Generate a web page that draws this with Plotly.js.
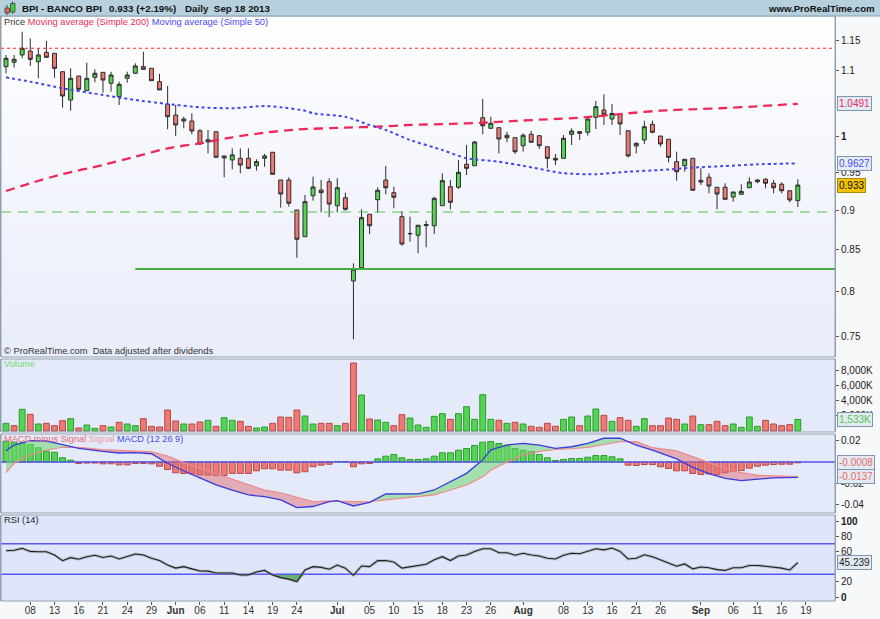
<!DOCTYPE html>
<html><head><meta charset="utf-8">
<script src="https://cdn.plot.ly/plotly-3.0.1.min.js"></script>
<style>html,body{margin:0;padding:0;background:#f7f8fa;}#chart{width:880px;height:619px;}</style>
</head><body><div id="chart"></div>
<script>
// ---------------- DATA ----------------
const dates = [
'2013-05-03','2013-05-06','2013-05-07','2013-05-08','2013-05-09','2013-05-10','2013-05-13','2013-05-14','2013-05-15','2013-05-16',
'2013-05-17','2013-05-20','2013-05-21','2013-05-22','2013-05-23','2013-05-24','2013-05-27','2013-05-28','2013-05-29','2013-05-30',
'2013-05-31','2013-06-03','2013-06-04','2013-06-05','2013-06-06','2013-06-07','2013-06-10','2013-06-11','2013-06-12','2013-06-13',
'2013-06-14','2013-06-17','2013-06-18','2013-06-19','2013-06-20','2013-06-21','2013-06-24','2013-06-25','2013-06-26','2013-06-27',
'2013-06-28','2013-07-01','2013-07-02','2013-07-03','2013-07-04','2013-07-05','2013-07-08','2013-07-09','2013-07-10','2013-07-11',
'2013-07-12','2013-07-15','2013-07-16','2013-07-17','2013-07-18','2013-07-19','2013-07-22','2013-07-23','2013-07-24','2013-07-25',
'2013-07-26','2013-07-29','2013-07-30','2013-07-31','2013-08-01','2013-08-02','2013-08-05','2013-08-06','2013-08-07','2013-08-08',
'2013-08-09','2013-08-12','2013-08-13','2013-08-14','2013-08-15','2013-08-16','2013-08-19','2013-08-20','2013-08-21','2013-08-22',
'2013-08-23','2013-08-26','2013-08-27','2013-08-28','2013-08-29','2013-08-30','2013-09-02','2013-09-03','2013-09-04','2013-09-05',
'2013-09-06','2013-09-09','2013-09-10','2013-09-11','2013-09-12','2013-09-13','2013-09-16','2013-09-17','2013-09-18'];

const priceOpen = [
1.1068,1.1138,1.1256,1.1321,1.1148,1.1300,1.1284,1.0988,1.0548,1.0920,
1.0691,1.0899,1.0978,1.0806,1.0599,1.0884,1.0963,1.1068,1.1042,1.0831,
1.0483,1.0322,1.0263,1.0234,1.0091,0.9930,1.0077,0.9702,0.9674,0.9697,
0.9697,0.9594,0.9697,0.9782,0.9398,0.9398,0.9000,0.8660,0.9188,0.9264,
0.9375,0.9056,0.9161,0.8124,0.8281,0.8945,0.9135,0.9398,0.9228,0.8914,
0.8695,0.8678,0.8800,0.8798,0.9056,0.9308,0.9300,0.9614,0.9594,1.0282,
1.0126,1.0135,1.0025,0.9990,0.9875,1.0039,1.0019,0.9861,0.9697,0.9697,
1.0039,1.0053,1.0068,1.0288,1.0397,1.0263,1.0337,1.0091,0.9871,0.9957,
1.0185,1.0014,0.9967,0.9650,0.9594,0.9697,0.9394,0.9435,0.9300,0.9300,
0.9171,0.9206,0.9294,0.9398,0.9408,0.9354,0.9341,0.9254,0.9122];
const priceHigh = [
1.1256,1.1256,1.1640,1.1530,1.1366,1.1486,1.1284,1.0988,1.1042,1.0920,
1.1133,1.1026,1.0978,1.0988,1.0831,1.0988,1.1122,1.1310,1.1042,1.0952,
1.0764,1.0473,1.0297,1.0348,1.0112,1.0102,1.0077,0.9730,0.9838,0.9838,
0.9838,0.9683,0.9758,0.9782,0.9398,0.9435,0.9000,0.9197,0.9443,0.9398,
0.9421,0.9421,0.9228,0.8334,0.9009,0.8945,0.9300,0.9590,0.9308,0.8987,
0.8914,0.8804,0.8862,0.9175,0.9490,0.9398,0.9674,0.9885,0.9942,1.0564,
1.0297,1.0135,1.0077,0.9990,1.0053,1.0087,1.0019,0.9861,0.9758,1.0029,
1.0126,1.0077,1.0297,1.0533,1.0636,1.0488,1.0337,1.0091,0.9924,1.0238,
1.0238,1.0014,0.9967,0.9790,0.9683,0.9697,0.9558,0.9490,0.9300,0.9354,
0.9237,0.9341,0.9435,0.9412,0.9421,0.9398,0.9367,0.9254,0.9408];
const priceLow = [
1.0963,1.1052,1.1203,1.1079,1.0884,1.1213,1.0894,1.0432,1.0387,1.0676,
1.0691,1.0820,1.0660,1.0676,1.0473,1.0815,1.0952,1.1026,1.0846,1.0702,
1.0112,1.0014,1.0126,1.0039,0.9885,0.9767,0.9711,0.9435,0.9545,0.9490,
0.9545,0.9525,0.9580,0.9476,0.9031,0.9043,0.8402,0.8660,0.9122,0.8970,
0.8906,0.8970,0.8991,0.7468,0.8281,0.8694,0.8965,0.9206,0.9022,0.8548,
0.8598,0.8455,0.8529,0.8694,0.9056,0.9009,0.9277,0.9466,0.9594,1.0039,
1.0126,0.9767,0.9924,0.9758,0.9790,0.9924,0.9828,0.9558,0.9604,0.9697,
0.9885,0.9957,1.0019,1.0116,1.0175,1.0175,1.0029,0.9711,0.9767,0.9900,
1.0053,0.9861,0.9641,0.9389,0.9511,0.9260,0.9331,0.9220,0.9009,0.9140,
0.9109,0.9206,0.9294,0.9354,0.9287,0.9220,0.9220,0.9101,0.9039];
const priceClose = [
1.1203,1.1186,1.1366,1.1186,1.1256,1.1219,1.1042,1.0610,1.0884,1.0712,
1.0884,1.0963,1.0857,1.0936,1.0790,1.0936,1.1079,1.1026,1.0846,1.0702,
1.0297,1.0175,1.0234,1.0087,0.9900,0.9960,0.9711,0.9730,0.9745,0.9604,
0.9558,0.9650,0.9730,0.9476,0.9210,0.9088,0.8628,0.9109,0.9304,0.9228,
0.9078,0.9294,0.9009,0.8262,0.8901,0.8798,0.9260,0.9294,0.9167,0.8569,
0.8700,0.8804,0.8812,0.9153,0.9389,0.9101,0.9503,0.9558,0.9928,1.0164,
1.0200,0.9971,0.9990,0.9790,1.0025,0.9924,0.9875,0.9697,0.9674,0.9981,
1.0087,1.0077,1.0263,1.0447,1.0333,1.0345,1.0190,0.9730,0.9909,1.0150,
1.0068,0.9900,0.9711,0.9511,0.9683,0.9260,0.9371,0.9317,0.9210,0.9140,
0.9237,0.9245,0.9371,0.9375,0.9354,0.9294,0.9254,0.9131,0.9330];

const volumeK = [
1015,706,2870,2208,927,1015,706,1369,1634,397,
795,353,706,530,1148,927,706,1634,618,530,
2781,1325,927,927,1192,1413,618,1766,1413,1280,
618,397,530,1015,1854,1810,2781,1987,927,1015,
1015,706,1015,9007,4768,1589,1457,1148,706,2163,
1722,795,486,1943,2296,1545,2296,3223,1545,4812,
1545,1413,1015,1148,927,618,486,1015,618,1545,
1854,706,1987,2914,2075,1280,1766,1413,618,1634,
706,706,1722,1545,927,1987,839,839,1280,706,
927,486,1854,618,1413,927,706,839,1533];

const macdHist = [
0.0196,0.0187,0.0180,0.0165,0.0134,0.0102,0.0092,0.0040,0.0017,-0.0014,
-0.0010,-0.0010,-0.0017,-0.0017,-0.0027,-0.0027,-0.0014,-0.0014,-0.0017,-0.0040,
-0.0071,-0.0102,-0.0108,-0.0110,-0.0121,-0.0124,-0.0127,-0.0127,-0.0108,-0.0108,
-0.0108,-0.0083,-0.0064,-0.0064,-0.0077,-0.0077,-0.0102,-0.0092,-0.0045,-0.0030,
-0.0021,0.0005,0.0005,-0.0045,-0.0017,-0.0014,0.0030,0.0055,0.0071,0.0040,
0.0024,0.0024,0.0030,0.0055,0.0087,0.0087,0.0111,0.0127,0.0156,0.0187,
0.0193,0.0175,0.0159,0.0127,0.0111,0.0099,0.0071,0.0040,0.0014,0.0024,
0.0033,0.0033,0.0045,0.0061,0.0061,0.0049,0.0030,-0.0030,-0.0033,-0.0024,
-0.0024,-0.0045,-0.0061,-0.0083,-0.0083,-0.0108,-0.0118,-0.0112,-0.0118,-0.0102,
-0.0087,-0.0080,-0.0058,-0.0040,-0.0030,-0.0024,-0.0021,-0.0021,-0.0008];

const macdDates = ['2013-05-03','2013-05-06','2013-05-08','2013-05-10','2013-05-14','2013-05-16','2013-05-21','2013-05-23','2013-05-27','2013-05-29',
'2013-05-31','2013-06-04','2013-06-06','2013-06-10','2013-06-12','2013-06-14','2013-06-18','2013-06-20','2013-06-24','2013-06-26',
'2013-06-28','2013-07-01','2013-07-03','2013-07-05','2013-07-09','2013-07-11','2013-07-15','2013-07-17','2013-07-19','2013-07-23',
'2013-07-25','2013-07-26','2013-07-30','2013-08-01','2013-08-05','2013-08-07','2013-08-09','2013-08-13','2013-08-15','2013-08-19',
'2013-08-21','2013-08-23','2013-08-28','2013-08-30','2013-09-03','2013-09-05','2013-09-09','2013-09-11','2013-09-13','2013-09-18'];
const macdLine = [0.0107,0.0160,0.0201,0.0198,0.0165,0.0128,0.0100,0.0085,0.0088,0.0078,
-0.0012,-0.0085,-0.0150,-0.0215,-0.0265,-0.0311,-0.0327,-0.0358,-0.0431,-0.0420,
-0.0374,-0.0365,-0.0415,-0.0380,-0.0302,-0.0302,-0.0300,-0.0264,-0.0185,-0.0107,
0.0020,0.0115,0.0160,0.0176,0.0160,0.0129,0.0144,0.0176,0.0224,0.0224,
0.0160,0.0113,0.0030,-0.0050,-0.0110,-0.0154,-0.0176,-0.0163,-0.0150,-0.0145];
const signalLine = [-0.0101,-0.0012,0.0066,0.0113,0.0139,0.0138,0.0117,0.0108,0.0103,0.0095,
0.0057,-0.0006,-0.0060,-0.0110,-0.0165,-0.0215,-0.0265,-0.0290,-0.0335,-0.0374,
-0.0370,-0.0372,-0.0370,-0.0375,-0.0357,-0.0343,-0.0327,-0.0310,-0.0264,-0.0217,
-0.0139,-0.0078,0.0001,0.0066,0.0100,0.0118,0.0125,0.0138,0.0165,0.0192,
0.0192,0.0135,0.0105,0.0050,-0.0010,-0.0060,-0.0100,-0.0123,-0.0130,-0.0137];

const ma200Dates = ['2013-05-03','2013-05-08','2013-05-14','2013-05-21','2013-05-27','2013-05-31','2013-06-06','2013-06-12','2013-06-18','2013-06-24',
'2013-07-02','2013-07-08','2013-07-12','2013-07-19','2013-07-25','2013-07-31','2013-08-06','2013-08-12','2013-08-20','2013-08-26',
'2013-08-30','2013-09-05','2013-09-11','2013-09-18'];
const ma200 = [0.9250,0.9354,0.9480,0.9604,0.9720,0.9838,0.9910,0.9996,1.0062,1.0109,
1.0135,1.0150,1.0175,1.0190,1.0208,1.0234,1.0259,1.0282,1.0348,1.0387,
1.0408,1.0427,1.0453,1.0491];

const ma50Dates = ['2013-05-03','2013-05-08','2013-05-14','2013-05-21','2013-05-27','2013-05-31','2013-06-06','2013-06-12','2013-06-18','2013-06-20',
'2013-06-25','2013-06-26','2013-07-02','2013-07-05','2013-07-09','2013-07-12','2013-07-18','2013-07-23','2013-07-29','2013-08-02',
'2013-08-08','2013-08-14','2013-08-20','2013-08-26','2013-08-30','2013-09-05','2013-09-11','2013-09-18'];
const ma50 = [1.0899,1.0831,1.0728,1.0625,1.0548,1.0488,1.0438,1.0423,1.0457,1.0438,
1.0387,1.0348,1.0297,1.0175,1.0102,0.9957,0.9814,0.9697,0.9650,0.9572,
0.9490,0.9476,0.9511,0.9535,0.9567,0.9590,0.9613,0.9627];

const rsi = [
60.9,61.5,64.0,60.0,59.6,59.6,55.3,47.8,51.8,49.6,
53.0,55.0,52.0,54.0,50.0,53.0,56.6,55.3,51.0,48.0,
42.0,38.0,40.0,37.0,34.2,34.0,31.5,31.5,31.5,29.0,
29.0,33.0,35.0,29.0,25.5,23.5,20.2,35.5,39.9,39.0,
36.5,42.0,38.0,28.5,40.8,40.0,47.8,48.0,46.0,38.0,
40.0,42.0,43.0,49.0,53.0,48.0,54.0,55.3,60.0,63.5,
63.5,58.3,58.3,55.0,57.5,55.3,54.0,51.0,50.0,55.0,
57.5,57.0,60.0,63.5,62.0,64.5,60.0,50.0,51.0,55.5,
53.0,49.0,44.0,40.5,43.5,37.0,39.5,38.5,36.0,35.0,
38.5,38.5,41.5,41.5,40.5,39.0,38.0,35.5,45.239];

const resistanceLevel = 1.1366;
const supportDashed = 0.8974;
const supportSolid = 0.8266;
const supportSolidStart = '2013-05-27';
const rsiUpper = 70, rsiLower = 30;

const tickDates = ['2013-05-08','2013-05-13','2013-05-16','2013-05-21','2013-05-24','2013-05-29','2013-06-03','2013-06-06','2013-06-11','2013-06-14',
'2013-06-19','2013-06-24','2013-07-01','2013-07-05','2013-07-10','2013-07-15','2013-07-18','2013-07-23','2013-07-26','2013-08-01',
'2013-08-08','2013-08-13','2013-08-16','2013-08-21','2013-08-26','2013-09-02','2013-09-06','2013-09-11','2013-09-16','2013-09-19'];
const tickLabels = ['08','13','16','21','24','29','<b>Jun</b>','06','11','14','19','24','<b>Jul</b>','05','10','15','18','23','26','<b>Aug</b>',
'08','13','16','21','26','<b>Sep</b>','06','11','16','19'];
const priceTicks = [1.15,1.1,1,0.95,0.9,0.85,0.8,0.75];
const priceTickText = ['1.15','1.1','<b>1</b>','0.95','0.9','0.85','0.8','0.75'];
const volTicks = [2000,4000,6000,8000];
const volTickText = ['2,000K','4,000K','6,000K','8,000K'];
const macdTicks = [0.02,-0.02,-0.04];
const macdTickText = ['0.02','-0.02','-0.04'];
const rsiTicks = [100,80,60,20,0];
const rsiTickText = ['<b>100</b>','80','60','20','<b>0</b>'];

// ---------------- LAYOUT HELPERS ----------------
const FONT = 'Liberation Sans, Arial, Helvetica, sans-serif';
const W = 880, H = 619, M = {l:1, r:45, t:16, b:18};
const PW = W - M.l - M.r, PH = H - M.t - M.b;
const px = x => (x - M.l) / PW;
const py = y => (H - M.b - y) / PH;

const pos = d => { const k = dates.indexOf(d); return k >= 0 ? k : dates.filter(v => v < d).length; };
const xs = dates.map((d, i) => i);
const xRange = [-0.62, 102.6];

const GREEN = '#54d454', GREEN_L = '#2e9a2e', RED = '#ef7a74', RED_L = '#b84848';

const domPrice = [py(357), 1], domVol = [py(432), py(359)], domMacd = [py(513), py(434)], domRsi = [0, py(515)];

const traces = [];
// price panel: levels
traces.push({type:'scatter', mode:'lines', x:xRange, y:[resistanceLevel, resistanceLevel], xaxis:'x', yaxis:'y',
  line:{color:'#ff2a2a', width:1, dash:'3px,3px'}, hoverinfo:'skip'});
traces.push({type:'scatter', mode:'lines', x:xRange, y:[supportDashed, supportDashed], xaxis:'x', yaxis:'y',
  line:{color:'#55c255', width:1.2, dash:'10px,7px'}, hoverinfo:'skip'});
traces.push({type:'scatter', mode:'lines', x:[pos(supportSolidStart), xRange[1]], y:[supportSolid, supportSolid], xaxis:'x', yaxis:'y',
  line:{color:'#3fae3f', width:2}, hoverinfo:'skip'});
// moving averages
traces.push({type:'scatter', mode:'lines', x:ma200Dates.map(pos), y:ma200, xaxis:'x', yaxis:'y',
  line:{color:'#f0285a', width:2.3, dash:'9px,6px', shape:'spline', smoothing:0.6}, hoverinfo:'skip'});
traces.push({type:'scatter', mode:'lines', x:ma50Dates.map(pos), y:ma50, xaxis:'x', yaxis:'y',
  line:{color:'#4646f0', width:2, dash:'3px,3px', shape:'spline', smoothing:0.6}, hoverinfo:'skip'});
// candles
traces.push({type:'candlestick', x:xs, open:priceOpen, high:priceHigh, low:priceLow, close:priceClose, xaxis:'x', yaxis:'y',
  increasing:{fillcolor:GREEN, line:{color:'#2c2c2c', width:1}},
  decreasing:{fillcolor:RED, line:{color:'#2c2c2c', width:1}},
  whiskerwidth:0, hoverinfo:'skip'});

// volume
const upDay = priceClose.map((c, i) => i === 0 || c >= priceClose[i-1]);
traces.push({type:'bar', x:xs, y:volumeK, xaxis:'x', yaxis:'y2', width:0.72,
  marker:{color:upDay.map(u => u ? GREEN : RED), line:{color:upDay.map(u => u ? GREEN_L : RED_L), width:1}}, hoverinfo:'skip'});

// MACD
traces.push({type:'bar', x:xs, y:macdHist, xaxis:'x', yaxis:'y3', width:0.74,
  marker:{color:macdHist.map(v => v >= 0 ? GREEN : RED), line:{color:macdHist.map(v => v >= 0 ? GREEN_L : RED_L), width:1}}, hoverinfo:'skip'});
traces.push({type:'scatter', mode:'lines', x:xRange, y:[0, 0], xaxis:'x', yaxis:'y3', line:{color:'#5555ee', width:1.4}, hoverinfo:'skip'});
const mx = macdDates.map(pos);
function poly(xp, yp, up) {
  traces.push({type:'scatter', mode:'lines', x:xp.concat([xp[0]]), y:yp.concat([yp[0]]), xaxis:'x', yaxis:'y3', fill:'toself',
    fillcolor: up ? 'rgba(110,215,110,0.55)' : 'rgba(222,110,115,0.5)', line:{width:0}, hoverinfo:'skip'});
}
for (let k = 0; k < mx.length - 1; k++) {
  const x0 = mx[k], x1 = mx[k+1], a0 = macdLine[k], a1 = macdLine[k+1], b0 = signalLine[k], b1 = signalLine[k+1];
  const d0 = a0 - b0, d1 = a1 - b1;
  if (d0 * d1 < 0) {
    const t = d0 / (d0 - d1), xc = x0 + t * (x1 - x0), yc = a0 + t * (a1 - a0);
    poly([x0, xc, x0], [a0, yc, b0], d0 > 0);
    poly([xc, x1, x1], [yc, a1, b1], d1 > 0);
  } else {
    poly([x0, x1, x1, x0], [a0, a1, b1, b0], d0 + d1 >= 0);
  }
}
traces.push({type:'scatter', mode:'lines', x:mx, y:signalLine, xaxis:'x', yaxis:'y3', line:{color:'#f08a8a', width:1.2}, hoverinfo:'skip'});
traces.push({type:'scatter', mode:'lines', x:mx, y:macdLine, xaxis:'x', yaxis:'y3', line:{color:'#3a3ae0', width:1.3}, hoverinfo:'skip'});

// RSI
traces.push({type:'scatter', mode:'lines', x:xRange, y:[rsiUpper, rsiUpper], xaxis:'x', yaxis:'y4', line:{color:'#5757f2', width:1.6}, hoverinfo:'skip'});
traces.push({type:'scatter', mode:'lines', x:xs, y:xs.map(() => rsiLower), xaxis:'x', yaxis:'y4', line:{color:'rgba(0,0,0,0)', width:0}, hoverinfo:'skip'});
traces.push({type:'scatter', mode:'lines', x:xs, y:rsi.map(v => Math.min(v, rsiLower)), xaxis:'x', yaxis:'y4', fill:'tonexty',
  fillcolor:'rgba(60,160,60,0.75)', line:{width:0, color:'rgba(0,0,0,0)'}, hoverinfo:'skip'});
traces.push({type:'scatter', mode:'lines', x:xRange, y:[rsiLower, rsiLower], xaxis:'x', yaxis:'y4', line:{color:'#5757f2', width:1.6}, hoverinfo:'skip'});
traces.push({type:'scatter', mode:'lines', x:xs, y:rsi, xaxis:'x', yaxis:'y4', line:{color:'rgba(150,150,150,0.5)', width:3}, hoverinfo:'skip'});
traces.push({type:'scatter', mode:'lines', x:xs, y:rsi, xaxis:'x', yaxis:'y4', line:{color:'#1e1e1e', width:1.1}, hoverinfo:'skip'});

// ---------------- SHAPES ----------------
const shapes = [];
const NB = 40;
for (let k = 0; k < NB; k++) {
  const f0 = k / NB, f1 = (k + 1) / NB;
  const c = 1 - (k + 0.5) / NB;
  const r = Math.round(255 - 22 * c), g = Math.round(255 - 19 * c), b = Math.round(255 - 5 * c);
  shapes.push({type:'rect', xref:'paper', yref:'paper', x0:0, x1:1,
    y0:domPrice[0] + (domPrice[1] - domPrice[0]) * f0, y1:domPrice[0] + (domPrice[1] - domPrice[0]) * f1 + 0.001,
    fillcolor:`rgb(${r},${g},${b})`, line:{width:0}, layer:'below'});
}
shapes.push({type:'rect', xref:'paper', yref:'paper', x0:0, x1:1, y0:domRsi[0], y1:domRsi[1], fillcolor:'#dfe6fb', line:{width:0}, layer:'below'});
[domPrice, domVol, domMacd, domRsi].forEach(d => shapes.push({type:'rect', xref:'paper', yref:'paper', x0:0, x1:1, y0:d[0], y1:d[1],
  fillcolor:'rgba(0,0,0,0)', line:{color:'#94a2b2', width:1}}));
shapes.push({type:'rect', xref:'paper', yref:'paper', x0:px(0), x1:px(880), y0:py(16), y1:py(0), fillcolor:'#b6d0dd', line:{width:0}});
shapes.push({type:'line', xref:'paper', yref:'paper', x0:px(0), x1:px(880), y0:py(16), y1:py(16), line:{color:'#8aa3b3', width:1}});
shapes.push({type:'line', xref:'paper', yref:'paper', x0:px(7), x1:px(7), y0:py(15), y1:py(5), line:{color:'#444', width:1}});
shapes.push({type:'rect', xref:'paper', yref:'paper', x0:px(5), x1:px(9.5), y0:py(13), y1:py(8), fillcolor:'#e8605a', line:{color:'#444', width:0.8}});
shapes.push({type:'line', xref:'paper', yref:'paper', x0:px(12.5), x1:px(12.5), y0:py(14), y1:py(1.5), line:{color:'#444', width:1}});
shapes.push({type:'rect', xref:'paper', yref:'paper', x0:px(10.5), x1:px(15), y0:py(12), y1:py(3.5), fillcolor:'#3ccc3c', line:{color:'#444', width:0.8}});

// ---------------- ANNOTATIONS ----------------
const ann = [];
const txt = (x, y, text, size, color, anchor) => ann.push({xref:'paper', yref:'paper', x:px(x), y:py(y), xanchor:anchor || 'left', yanchor:'middle',
  text, showarrow:false, font:{family:FONT, size, color}});
txt(20, 8.5, '<b>BPI - BANCO BPI</b>', 9.8, '#111');
txt(107, 8.5, '<b>' + priceClose[priceClose.length-1].toFixed(3) + ' (+2.19%)</b>', 9.8, '#111');
txt(183, 8.5, '<b>Daily  Sep 18 2013</b>', 9.8, '#111');
txt(877, 8.5, '<b>www.ProRealTime.com</b>', 9.6, '#111', 'right');
txt(2, 22, '<span style="color:#333">Price</span> <span style="color:#f0285a">Moving average (Simple 200)</span> <span style="color:#4a4af2">Moving average (Simple 50)</span>', 9.3, '#333');
txt(2, 351, '© ProRealTime.com  Data adjusted after dividends', 9.3, '#333');
txt(2, 364, 'Volume', 9.3, '#74d874');
txt(2, 439, '<span style="color:#e46a6a">MACD minus Signal</span> <span style="color:#f09a9a">Signal</span> <span style="color:#4a4ae6">MACD (12 26 9)</span>', 9.2, '#333');
txt(2, 520, 'RSI (14)', 9.3, '#222');

function valBox(yref, y, text, color, bg, border) {
  ann.push({xref:'paper', x:px(837), xanchor:'left', yref, y, yanchor:'middle', text, showarrow:false,
    font:{family:FONT, size:10, color}, bgcolor:bg, bordercolor:border, borderwidth:1, borderpad:1});
}
const lastMA200 = ma200[ma200.length-1], lastMA50 = ma50[ma50.length-1], lastClose = priceClose[priceClose.length-1];
valBox('y', Math.log10(lastMA200), lastMA200.toFixed(4), '#f0285a', '#e3eaf4', '#8195aa');
valBox('y', Math.log10(lastMA50), lastMA50.toFixed(4), '#4a4af2', '#e3eaf4', '#8195aa');
valBox('y', Math.log10(lastClose), lastClose.toFixed(3), '#111', '#f2c200', '#a8890a');
valBox('y2', volumeK[volumeK.length-1], volumeK[volumeK.length-1].toLocaleString('en-US') + 'K', '#4cc84c', '#e3eaf4', '#8195aa');
valBox('y3', macdHist[macdHist.length-1], macdHist[macdHist.length-1].toFixed(4), '#e46a6a', '#e3eaf4', '#8195aa');
valBox('y3', signalLine[signalLine.length-1], signalLine[signalLine.length-1].toFixed(4), '#e46a6a', '#e3eaf4', '#8195aa');
valBox('y4', rsi[rsi.length-1], rsi[rsi.length-1].toFixed(3), '#222', '#e3eaf4', '#8195aa');

// ---------------- AXES ----------------
const yCommon = {side:'right', anchor:'x', showgrid:false, zeroline:false, showline:true, linecolor:'#8d9bab', mirror:true,
  ticks:'outside', ticklen:3, tickcolor:'#555', tickfont:{family:FONT, size:10, color:'#222'}, fixedrange:true, tickmode:'array'};

const layout = {
  width:W, height:H, margin:M, paper_bgcolor:'#f7f8fa', plot_bgcolor:'#e5eafb', showlegend:false, barmode:'overlay',
  font:{family:FONT, size:10, color:'#222'},
  xaxis:{type:'linear', range:xRange, anchor:'y4', showgrid:false, zeroline:false, showline:false,
    tickmode:'array', tickvals:tickDates.map(pos), ticktext:tickLabels, ticks:'outside', ticklen:3, tickcolor:'#555',
    ticklabelstandoff:-3,
    tickfont:{family:FONT, size:10, color:'#333'}, rangeslider:{visible:false}, fixedrange:true},
  yaxis:Object.assign({}, yCommon, {domain:domPrice, type:'log', range:[Math.log10(0.72797), Math.log10(1.19078)],
    tickvals:priceTicks, ticktext:priceTickText}),
  yaxis2:Object.assign({}, yCommon, {domain:domVol, range:[-132, 9536], tickvals:volTicks, ticktext:volTickText}),
  yaxis3:Object.assign({}, yCommon, {domain:domMacd, range:[-0.048113, 0.026415], tickvals:macdTicks, ticktext:macdTickText}),
  yaxis4:Object.assign({}, yCommon, {domain:domRsi, range:[-5.263, 107.89], tickvals:rsiTicks, ticktext:rsiTickText}),
  shapes, annotations:ann
};

Plotly.newPlot('chart', traces, layout, {displayModeBar:false, staticPlot:true});
</script>
</body></html>
